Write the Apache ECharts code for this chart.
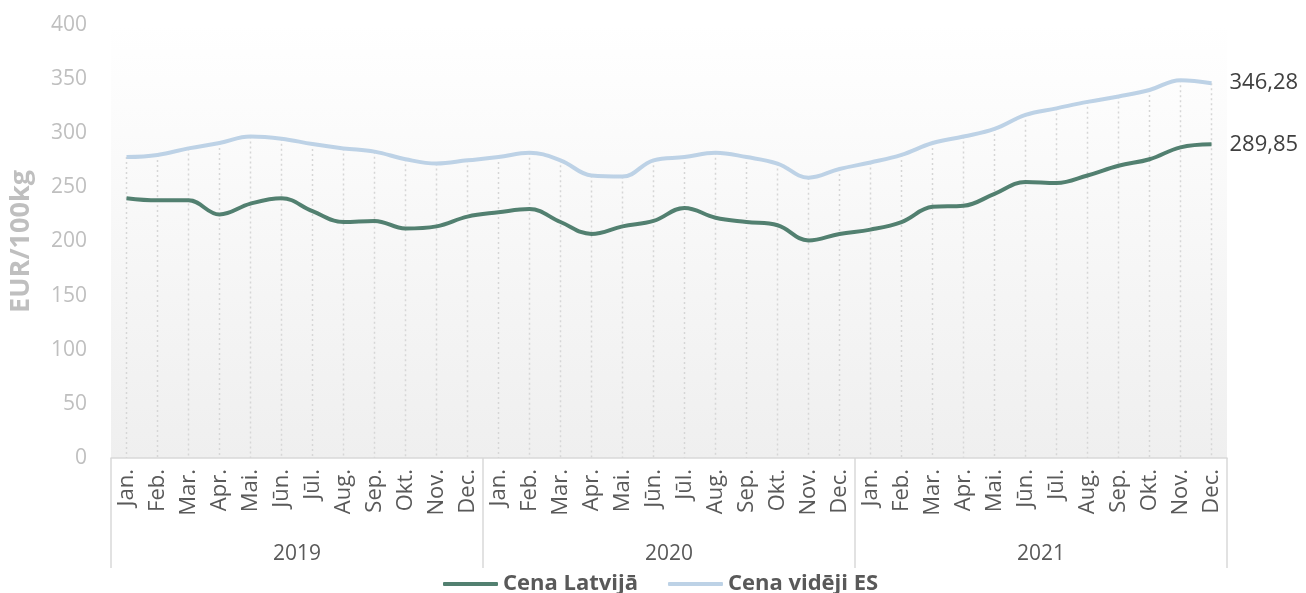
<!DOCTYPE html>
<html>
<head>
<meta charset="utf-8">
<script src="https://cdn.jsdelivr.net/npm/echarts@6/dist/echarts.min.js"></script>
<style>
  html, body { margin: 0; padding: 0; background: #fff; }
  #chart { width: 1306px; height: 593px; }
</style>
</head>
<body>
<div id="chart"></div>
<script>
// mēneši un gadi
const monthNames = ['Jan.', 'Feb.', 'Mar.', 'Apr.', 'Mai.', 'Jūn.', 'Jūl.', 'Aug.', 'Sep.', 'Okt.', 'Nov.', 'Dec.']
const years = ['2019', '2020', '2021']
const months = [].concat(monthNames, monthNames, monthNames)

// cenas, EUR/100kg
const cenaLatvija = [
  240, 238, 238, 225, 235, 240, 228, 218, 219, 212, 214, 223,
  227, 230, 218, 207, 214, 219, 231, 222, 218, 215, 201, 207,
  211, 218, 232, 233, 244, 255, 254, 261, 270, 276, 287, 289.85
]
const cenaES = [
  278, 280, 286, 291, 297, 295, 290, 286, 283, 276, 272, 275,
  278, 282, 275, 261, 260, 275, 278, 282, 278, 272, 259, 267,
  273, 280, 291, 297, 304, 317, 323, 329, 334, 340, 349, 346.28
]

const FONT = 'Open Sans'
const fmt = v => v.toFixed(2).replace('.', ',')

// vertikālās punktētās līnijas līdz augstākajai vērtībai
const dropData = months.map((m, i) => [i, Math.max(cenaLatvija[i], cenaES[i])])

const chart = echarts.init(document.getElementById('chart'))

const option = {
  animation: false,
  textStyle: { fontFamily: FONT },
  grid: {
    left: 107,
    right: 79,
    top: 25,
    bottom: 135,
    show: true,
    borderWidth: 0,
    backgroundColor: {
      type: 'linear', x: 0, y: 0, x2: 0, y2: 1,
      colorStops: [
        { offset: 0, color: '#ffffff' },
        { offset: 1, color: '#efefef' }
      ]
    }
  },
  legend: {
    data: ['Cena Latvijā', 'Cena vidēji ES'],
    icon: 'roundRect',
    left: 438,
    top: 568,
    itemWidth: 55,
    itemHeight: 4,
    itemGap: 30,
    textStyle: { fontFamily: FONT, fontSize: 22, fontWeight: 'bold', color: '#595959' }
  },
  xAxis: [
    {
      type: 'category',
      data: months,
      boundaryGap: true,
      axisLine: { show: true, lineStyle: { color: '#d9d9d9', width: 1.5 } },
      axisTick: { show: false },
      axisLabel: {
        rotate: 90,
        interval: 0,
        margin: 11,
        fontFamily: FONT,
        fontSize: 22,
        color: '#595959'
      },
      splitLine: { show: false }
    },
    {
      type: 'category',
      data: years,
      position: 'bottom',
      boundaryGap: true,
      axisLine: { show: false },
      axisTick: {
        show: true,
        interval: 0,
        length: 110,
        lineStyle: { color: '#d9d9d9', width: 1.5 }
      },
      axisLabel: {
        margin: 86,
        fontFamily: FONT,
        fontSize: 21,
        color: '#595959'
      },
      splitLine: { show: false }
    }
  ],
  yAxis: {
    type: 'value',
    min: 0,
    max: 400,
    interval: 50,
    name: 'EUR/100kg',
    nameLocation: 'middle',
    nameRotate: 90,
    nameGap: 76,
    nameTextStyle: { fontFamily: FONT, fontSize: 27, fontWeight: 'bold', color: '#bfbfbf' },
    axisLine: { show: false },
    axisTick: { show: false },
    splitLine: { show: false },
    axisLabel: { margin: 24, fontFamily: FONT, fontSize: 21, color: '#bfbfbf' }
  },
  series: [
    {
      type: 'custom',
      name: 'drop',
      xAxisIndex: 0,
      silent: true,
      z: 1,
      data: dropData,
      renderItem: function (params, api) {
        const top = api.coord([api.value(0), api.value(1)])
        const bottom = api.coord([api.value(0), 0])
        return {
          type: 'line',
          shape: { x1: top[0], y1: top[1], x2: bottom[0], y2: bottom[1] },
          style: { stroke: '#d6d6d6', lineWidth: 1.5, lineDash: [2, 3] }
        }
      }
    },
    {
      name: 'Cena Latvijā',
      type: 'line',
      data: cenaLatvija,
      smooth: 0.4,
      symbol: 'none',
      z: 3,
      lineStyle: { color: '#528070', width: 4 },
      itemStyle: { color: '#528070' },
      endLabel: {
        show: true,
        distance: 18,
        formatter: p => fmt(p.value),
        fontFamily: FONT,
        fontSize: 22,
        color: '#404040'
      }
    },
    {
      name: 'Cena vidēji ES',
      type: 'line',
      data: cenaES,
      smooth: 0.4,
      symbol: 'none',
      z: 2,
      lineStyle: { color: '#bdd2e6', width: 4 },
      itemStyle: { color: '#bdd2e6' },
      endLabel: {
        show: true,
        distance: 18,
        formatter: p => fmt(p.value),
        fontFamily: FONT,
        fontSize: 22,
        color: '#404040'
      }
    }
  ]
}

chart.setOption(option)
</script>
</body>
</html>
